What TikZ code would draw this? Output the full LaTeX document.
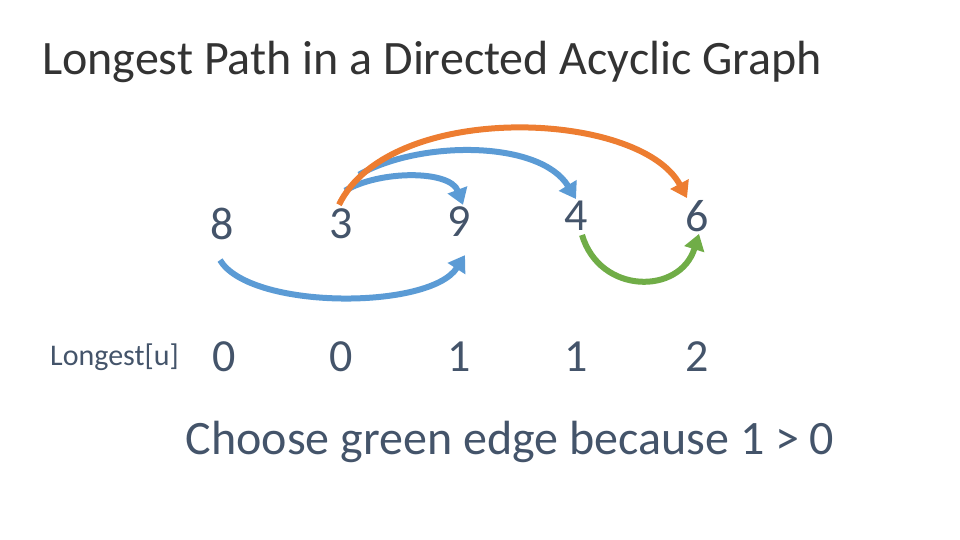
\documentclass[tikz,border=0pt]{standalone}
\usepackage{fontspec}
\setmainfont{Carlito}
\usetikzlibrary{arrows.meta}
\definecolor{slate}{HTML}{44546A}
\definecolor{offorange}{HTML}{ED7D31}
\definecolor{offblue}{HTML}{5B9BD5}
\definecolor{offgreen}{HTML}{70AD47}
\tikzstyle{num} = [text=slate, font=\fontsize{46}{46}\selectfont, inner sep=0pt]
\tikzstyle{arc} = [line width=6pt, -{Triangle[length=16pt, width=20pt]}]

\begin{document}
\begin{tikzpicture}[x=1pt, y=-1pt]
\useasboundingbox (0,0) rectangle (960,540);

% Title
\node (T) [anchor=west, text=black!80, font=\fontsize{48}{48}\selectfont, inner sep=0pt] at (42,62) {Longest Path in a Directed Acyclic Graph};

% Values
\node (a) [num] at (222,224) {8};
\node (b) [num] at (341,224) {3};
\node (c) [num] at (459,222) {9};
\node (d) [num] at (576,216) {4};
\node (e) [num] at (697,216) {6};

% Longest
\node (L) [anchor=east, text=slate, font=\fontsize{30}{30}\selectfont, inner sep=0pt] at (179,357) {Longest[u]};
\node (la) [num] at (224,357) {0};
\node (lb) [num] at (341,357) {0};
\node (lc) [num] at (459,357) {1};
\node (ld) [num] at (576,357) {1};
\node (le) [num] at (697,357) {2};

\node (C) [num, font=\fontsize{48}{48}\selectfont] at (510,442) {Choose green edge because 1 > 0};

% Edges
\draw [arc, offblue] ([xshift=4pt,yshift=18pt]b.north) .. controls (380,170) and (450,170) .. ([xshift=4pt,yshift=2pt]c.north);
\draw [arc, offblue] ([xshift=18pt,yshift=34pt]b.north) .. controls (420,140) and (540,140) .. ([xshift=0pt,yshift=2pt]d.north);
\draw [arc, offorange] ([xshift=-2pt,yshift=4pt]b.north) .. controls (390,100) and (640,110) .. ([xshift=-10pt,yshift=2pt]e.north);
\draw [arc, offblue] ([xshift=-2pt,yshift=-20pt]a.south) .. controls (250,310) and (430,310) .. ([xshift=6pt,yshift=-18pt]c.south);
\draw [arc, offgreen] ([xshift=6pt,yshift=-4pt]d.south) .. controls (600,295) and (680,295) .. ([xshift=2pt,yshift=-2pt]e.south);
\end{tikzpicture}
\end{document}
